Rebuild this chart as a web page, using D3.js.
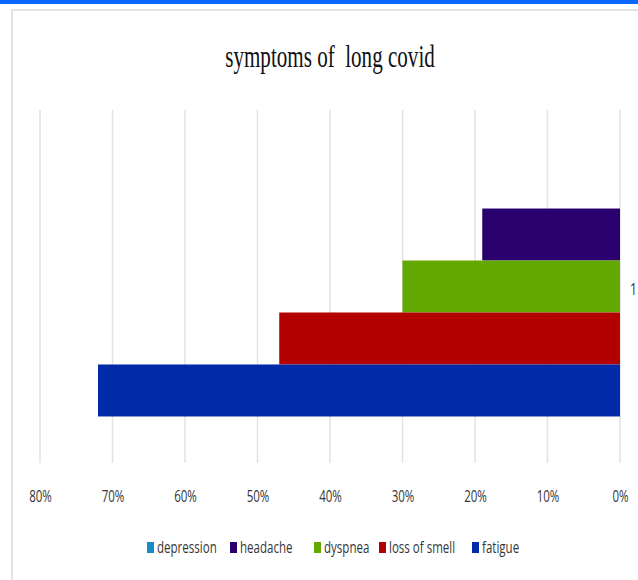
<!DOCTYPE html>
<html>
<head>
<meta charset="utf-8">
<script src="https://cdn.jsdelivr.net/npm/d3@7"></script>
<style>
  html, body { margin: 0; padding: 0; background: #fff; }
  svg { display: block; }
</style>
</head>
<body>
<svg id="chart" width="638" height="580"></svg>
<script>
// Long-covid symptom shares, one category
const categories = ["1"];
const seriesNames = ["depression", "headache", "dyspnea", "loss of smell", "fatigue"];
const seriesValues = [0.00, 0.19, 0.30, 0.47, 0.72];
const seriesColors = ["#178cc9", "#29006d", "#62a800", "#b30000", "#002aa8"];
const tickValues = [0.8, 0.7, 0.6, 0.5, 0.4, 0.3, 0.2, 0.1, 0];
const titleText = "symptoms of  long covid";

const svg = d3.select("#chart");
const labelFont = "'Open Sans', sans-serif";
const labelColor = "#363636";

// top accent strip and framed chart area
svg.append("rect").attr("x", 0).attr("y", 0).attr("width", 638).attr("height", 4).attr("fill", "#0866ff");
svg.append("rect").attr("x", 12).attr("y", 10).attr("width", 640).attr("height", 600)
  .attr("fill", "#fff").attr("stroke", "#e4e4e4").attr("stroke-width", 2);

const plot = { left: 40, right: 620, top: 110, bottom: 463 };

// reversed value axis: 80% at left, 0% at right
const x = d3.scaleLinear().domain([0, 0.8]).range([plot.right, plot.left]);
const y = d3.scaleBand().domain(categories).range([plot.top, plot.bottom]).paddingInner(0).paddingOuter(0.179);
const ySub = d3.scaleBand().domain(seriesNames).range([0, y.bandwidth()]);

// vertical gridlines
svg.append("g").selectAll("line").data(tickValues).join("line")
  .attr("x1", d => x(d)).attr("x2", d => x(d))
  .attr("y1", plot.top).attr("y2", plot.bottom)
  .attr("stroke", "#e2e2e2").attr("stroke-width", 1.5);

// bars
const rows = seriesNames.map((n, i) => ({ name: n, value: seriesValues[i], color: seriesColors[i] }));
svg.append("g").selectAll("rect").data(rows).join("rect")
  .attr("x", d => x(d.value))
  .attr("width", d => x(0) - x(d.value))
  .attr("y", d => y("1") + ySub(d.name))
  .attr("height", ySub.bandwidth())
  .attr("fill", d => d.color);

// tick labels under the axis
const axis = d3.axisBottom(x).tickValues(tickValues).tickFormat(d3.format(".0%")).tickSize(0).tickPadding(0);
const gx = svg.append("g").attr("transform", "translate(0, 502)").call(axis);
gx.select(".domain").remove();
gx.selectAll(".tick text")
  .attr("font-family", labelFont)
  .attr("font-size", 17)
  .attr("fill", labelColor)
  .attr("text-anchor", "middle")
  .attr("dy", 0)
  .attr("transform", "scale(0.68,1)");

// category label, at right of the value axis
svg.append("text")
  .attr("transform", "translate(630,295) scale(0.72,1)")
  .attr("font-family", labelFont).attr("font-size", 17)
  .attr("fill", labelColor)
  .text(categories[0]);

// title
svg.append("text")
  .attr("transform", "translate(330,67) scale(0.68,1)")
  .attr("text-anchor", "middle")
  .attr("font-family", "'Liberation Serif', 'DejaVu Serif', serif")
  .attr("font-size", 31)
  .attr("fill", "#111")
  .attr("xml:space", "preserve")
  .style("white-space", "pre")
  .text(titleText);

// legend
const legendX = [147, 230, 314, 379, 472];
const lg = svg.append("g").selectAll("g").data(rows).join("g")
  .attr("transform", (d, i) => `translate(${legendX[i]},542)`);
lg.append("rect").attr("width", 7).attr("height", 11).attr("fill", d => d.color);
lg.append("text")
  .attr("transform", "translate(10,11) scale(0.68,1)")
  .attr("font-family", labelFont).attr("font-size", 17)
  .attr("fill", labelColor)
  .text(d => d.name);
</script>
</body>
</html>
